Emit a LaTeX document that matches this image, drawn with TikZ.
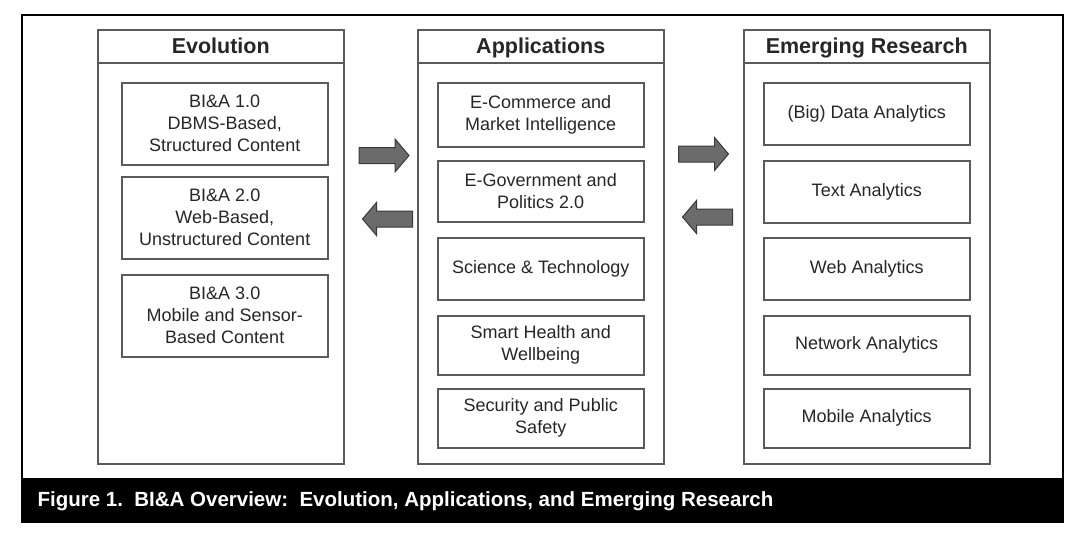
\documentclass[tikz,border=0pt]{standalone}
\usepackage{fontspec}
\setmainfont{Liberation Sans}
\usetikzlibrary{calc}

\definecolor{textgray}{HTML}{262626}
\definecolor{linegray}{HTML}{5A5A5A}
\definecolor{arrowfill}{HTML}{6B6B6B}
\definecolor{arrowedge}{HTML}{3A3A3A}

\tikzset{
	column/.style = {draw = linegray, line width = 1.5pt, minimum width = 246pt, minimum height = 434pt, inner sep = 0pt, anchor = north west},
	header/.style = {font = \bfseries\fontsize{21.5}{24}\selectfont, text = textgray, anchor = base},
	item/.style = {draw = linegray, line width = 1.5pt, minimum width = 206pt, inner sep = 0pt, anchor = north west, align = center, text = textgray, font = \fontsize{18}{22}\selectfont},
	blockarrow/.pic = {
		\draw [draw = arrowedge, fill = arrowfill, line width = 1pt, line join = miter] (-25,-8) -- (11,-8) -- (11,-16.5) -- (25,0) -- (11,16.5) -- (11,8) -- (-25,8) -- cycle;
	}
}

\begin{document}
\begin{tikzpicture}[x = 1pt, y = -1pt]
		\useasboundingbox (0,0) rectangle (1085,539);
		\def\headh{34};
		
		%outer frame and caption bar
		\fill [black] (22,478) rectangle (1063,522);
		\draw [line width = 2pt] (22,15) rectangle (1063,522);
		\node [anchor = west, text = white, font = \bfseries\fontsize{20.5}{24}\selectfont] (caption) at (34,501) {Figure 1.\ \ BI\&A Overview:\ \ Evolution, Applications, and Emerging Research};
		
		%columns
		\node [column] (evo) at (97,29) {};
		\node [column] (app) at (417,29) {};
		\node [column] (emr) at (743,29) {};
		
		\foreach \col/\title in {evo/Evolution, app/Applications, emr/Emerging Research}
		{
			\draw [draw = linegray, line width = 1.5pt] ($ (\col.north west) + (0,\headh) $) -- ($ (\col.north east) + (0,\headh) $);
			\node [header] (\col title) at ($ (\col.north) + (0,24) $) {\title};
		}
		
		%evolution
		\foreach \n/\y/\txt in {1/82/{BI\&A 1.0\\DBMS-Based,\\Structured Content}, 2/176/{BI\&A 2.0\\Web-Based,\\Unstructured Content}, 3/274/{BI\&A 3.0\\Mobile and Sensor-\\Based Content}}
			\node [item, minimum height = 82pt] (evo\n) at (121,\y) {\txt};
		
		%applications
		\foreach \n/\y/\h/\txt in {1/82/64/{E-Commerce and\\Market Intelligence}, 2/160/61/{E-Government and\\Politics 2.0}, 3/237/62/{Science \& Technology}, 4/315/59/{Smart Health and\\Wellbeing}, 5/388/59/{Security and Public\\Safety}}
			\node [item, minimum height = \h pt] (app\n) at (437,\y) {\txt};
		
		%emerging research
		\foreach \n/\y/\h/\txt in {1/82/62/{(Big) Data Analytics}, 2/160/62/{Text Analytics}, 3/237/62/{Web Analytics}, 4/315/59/{Network Analytics}, 5/388/59/{Mobile Analytics}}
			\node [item, minimum height = \h pt] (emr\n) at (763,\y) {\txt};
		
		%arrows
		\pic at (384,155.5) {blockarrow};
		\pic [xscale = -1] at (387.5,219) {blockarrow};
		\pic at (703.5,154) {blockarrow};
		\pic [xscale = -1] at (707.5,217) {blockarrow};
	\end{tikzpicture}
\end{document}
